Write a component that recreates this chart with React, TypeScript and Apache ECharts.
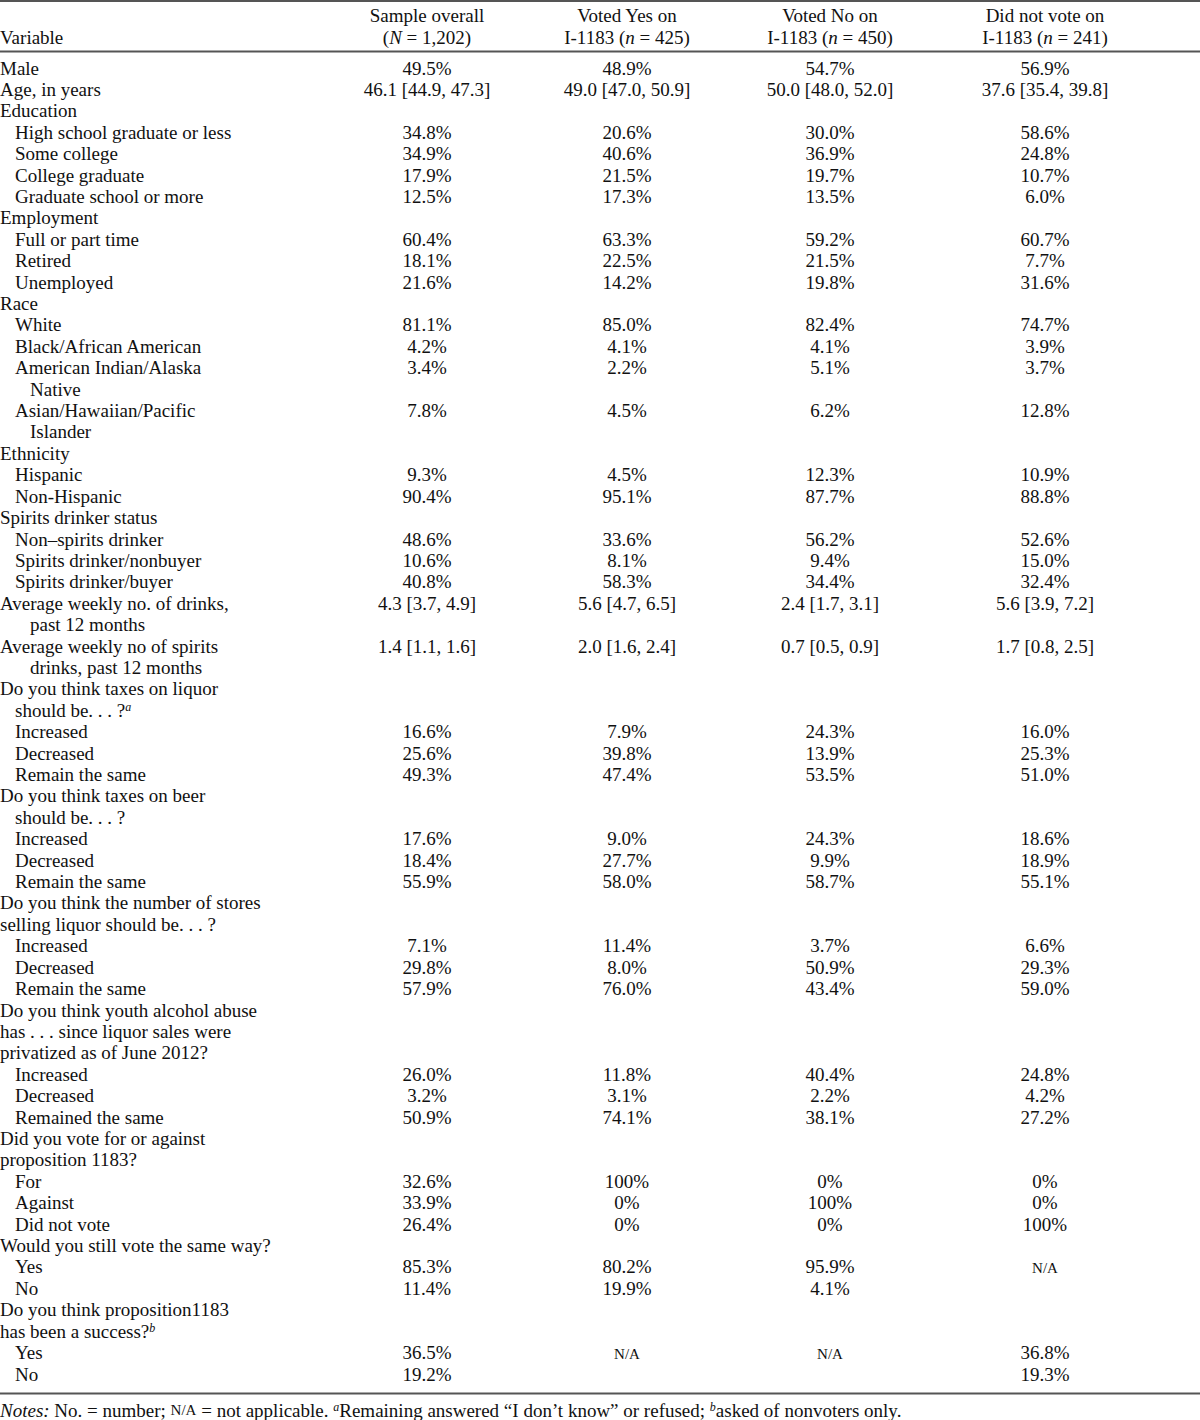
import React, { useEffect, useRef } from "react";
import * as echarts from "echarts";

const headerLine1 = ["Sample overall", "Voted Yes on", "Voted No on", "Did not vote on"];
const headerLine2 = [
  "({i|N} = 1,202)",
  "I-1183 ({i|n} = 425)",
  "I-1183 ({i|n} = 450)",
  "I-1183 ({i|n} = 241)",
];

// [label, indent level]
const rowLabels: [string, number][] = [
  ["Male", 0],
  ["Age, in years", 0],
  ["Education", 0],
  ["High school graduate or less", 1],
  ["Some college", 1],
  ["College graduate", 1],
  ["Graduate school or more", 1],
  ["Employment", 0],
  ["Full or part time", 1],
  ["Retired", 1],
  ["Unemployed", 1],
  ["Race", 0],
  ["White", 1],
  ["Black/African American", 1],
  ["American Indian/Alaska", 1],
  ["Native", 2],
  ["Asian/Hawaiian/Pacific", 1],
  ["Islander", 2],
  ["Ethnicity", 0],
  ["Hispanic", 1],
  ["Non-Hispanic", 1],
  ["Spirits drinker status", 0],
  ["Non–spirits drinker", 1],
  ["Spirits drinker/nonbuyer", 1],
  ["Spirits drinker/buyer", 1],
  ["Average weekly no. of drinks,", 0],
  ["past 12 months", 2],
  ["Average weekly no of spirits", 0],
  ["drinks, past 12 months", 2],
  ["Do you think taxes on liquor", 0],
  ["should be. . . ?{sup|a}", 1],
  ["Increased", 1],
  ["Decreased", 1],
  ["Remain the same", 1],
  ["Do you think taxes on beer", 0],
  ["should be. . . ?", 1],
  ["Increased", 1],
  ["Decreased", 1],
  ["Remain the same", 1],
  ["Do you think the number of stores", 0],
  ["selling liquor should be. . . ?", 0],
  ["Increased", 1],
  ["Decreased", 1],
  ["Remain the same", 1],
  ["Do you think youth alcohol abuse", 0],
  ["has . . . since liquor sales were", 0],
  ["privatized as of June 2012?", 0],
  ["Increased", 1],
  ["Decreased", 1],
  ["Remained the same", 1],
  ["Did you vote for or against", 0],
  ["proposition 1183?", 0],
  ["For", 1],
  ["Against", 1],
  ["Did not vote", 1],
  ["Would you still vote the same way?", 0],
  ["Yes", 1],
  ["No", 1],
  ["Do you think proposition1183", 0],
  ["has been a success?{sup|b}", 0],
  ["Yes", 1],
  ["No", 1],
];

const overall = [
  "49.5%", "46.1 [44.9, 47.3]", "", "34.8%", "34.9%", "17.9%", "12.5%", "",
  "60.4%", "18.1%", "21.6%", "", "81.1%", "4.2%", "3.4%", "", "7.8%", "", "",
  "9.3%", "90.4%", "", "48.6%", "10.6%", "40.8%", "4.3 [3.7, 4.9]", "",
  "1.4 [1.1, 1.6]", "", "", "", "16.6%", "25.6%", "49.3%", "", "", "17.6%",
  "18.4%", "55.9%", "", "", "7.1%", "29.8%", "57.9%", "", "", "", "26.0%",
  "3.2%", "50.9%", "", "", "32.6%", "33.9%", "26.4%", "", "85.3%", "11.4%",
  "", "", "36.5%", "19.2%",
];
const votedYes = [
  "48.9%", "49.0 [47.0, 50.9]", "", "20.6%", "40.6%", "21.5%", "17.3%", "",
  "63.3%", "22.5%", "14.2%", "", "85.0%", "4.1%", "2.2%", "", "4.5%", "", "",
  "4.5%", "95.1%", "", "33.6%", "8.1%", "58.3%", "5.6 [4.7, 6.5]", "",
  "2.0 [1.6, 2.4]", "", "", "", "7.9%", "39.8%", "47.4%", "", "", "9.0%",
  "27.7%", "58.0%", "", "", "11.4%", "8.0%", "76.0%", "", "", "", "11.8%",
  "3.1%", "74.1%", "", "", "100%", "0%", "0%", "", "80.2%", "19.9%",
  "", "", "N/A", "",
];
const votedNo = [
  "54.7%", "50.0 [48.0, 52.0]", "", "30.0%", "36.9%", "19.7%", "13.5%", "",
  "59.2%", "21.5%", "19.8%", "", "82.4%", "4.1%", "5.1%", "", "6.2%", "", "",
  "12.3%", "87.7%", "", "56.2%", "9.4%", "34.4%", "2.4 [1.7, 3.1]", "",
  "0.7 [0.5, 0.9]", "", "", "", "24.3%", "13.9%", "53.5%", "", "", "24.3%",
  "9.9%", "58.7%", "", "", "3.7%", "50.9%", "43.4%", "", "", "", "40.4%",
  "2.2%", "38.1%", "", "", "0%", "100%", "0%", "", "95.9%", "4.1%",
  "", "", "N/A", "",
];
const didNotVote = [
  "56.9%", "37.6 [35.4, 39.8]", "", "58.6%", "24.8%", "10.7%", "6.0%", "",
  "60.7%", "7.7%", "31.6%", "", "74.7%", "3.9%", "3.7%", "", "12.8%", "", "",
  "10.9%", "88.8%", "", "52.6%", "15.0%", "32.4%", "5.6 [3.9, 7.2]", "",
  "1.7 [0.8, 2.5]", "", "", "", "16.0%", "25.3%", "51.0%", "", "", "18.6%",
  "18.9%", "55.1%", "", "", "6.6%", "29.3%", "59.0%", "", "", "", "24.8%",
  "4.2%", "27.2%", "", "", "0%", "0%", "100%", "", "N/A", "",
  "", "", "36.8%", "19.3%",
];

const columns = [overall, votedYes, votedNo, didNotVote];

const notesText =
  "{i|Notes:} No. = number; {sc|N/A} = not applicable. {sup|a}Remaining answered “I don’t know” or refused; {sup|b}asked of nonvoters only.";

const FONT = "'Liberation Serif', 'Times New Roman', serif";
const FS = 19;
const COLOR = "#111";

export default function App() {
  const ref = useRef<HTMLDivElement>(null);

  useEffect(() => {
    if (!ref.current) return;
    const chart = echarts.init(ref.current, null, { renderer: "svg" });

    const colX = [427, 627, 830, 1045];
    const row0 = 68;
    const pitch = 21.41;
    const indentPx = [0, 15, 30];

    const rich = {
      sup: { fontSize: 12, fontStyle: "italic", fontFamily: FONT, fill: COLOR, verticalAlign: "top" },
      i: { fontSize: FS, fontStyle: "italic", fontFamily: FONT, fill: COLOR },
      sc: { fontSize: 15, fontFamily: FONT, fill: COLOR },
    };

    const elements: any[] = [];

    const baseStyle = (extra: any) => ({
      fontSize: FS,
      fontFamily: FONT,
      fill: COLOR,
      rich,
      ...extra,
    });

    // Rules
    const rule = (y: number) => ({
      type: "line",
      shape: { x1: 0, y1: y, x2: 1200, y2: y },
      style: { stroke: "#555", lineWidth: 2 },
    });
    elements.push(rule(1), rule(51.5), rule(1393.5));

    // Header
    elements.push({
      type: "text",
      x: 0,
      y: 37,
      style: baseStyle({ text: "Variable", align: "left", verticalAlign: "middle" }),
    });
    headerLine1.forEach((t, i) => {
      elements.push({
        type: "text",
        x: colX[i],
        y: 15,
        style: baseStyle({ text: t, align: "center", verticalAlign: "middle" }),
      });
      elements.push({
        type: "text",
        x: colX[i],
        y: 37,
        style: baseStyle({ text: headerLine2[i], align: "center", verticalAlign: "middle" }),
      });
    });

    // Body
    rowLabels.forEach(([label, ind], r) => {
      const y = row0 + r * pitch;
      elements.push({
        type: "text",
        x: indentPx[ind],
        y,
        style: baseStyle({ text: label, align: "left", verticalAlign: "middle" }),
      });
      columns.forEach((col, c) => {
        const v = col[r];
        if (!v) return;
        const isNA = v === "N/A";
        elements.push({
          type: "text",
          x: colX[c],
          y: isNA ? y + 1 : y,
          style: baseStyle({
            text: v,
            align: "center",
            verticalAlign: "middle",
            fontSize: isNA ? 15 : FS,
          }),
        });
      });
    });

    // Notes
    elements.push({
      type: "text",
      x: 0,
      y: 1410,
      style: baseStyle({ text: notesText, align: "left", verticalAlign: "middle", fontSize: 19 }),
    });

    chart.setOption({
      animation: false,
      backgroundColor: "#fff",
      graphic: { elements },
    });

    return () => chart.dispose();
  }, []);

  return (
    <div
      ref={ref}
      style={{ position: "absolute", left: 0, top: 0, width: 1200, height: 1420 }}
    />
  );
}
